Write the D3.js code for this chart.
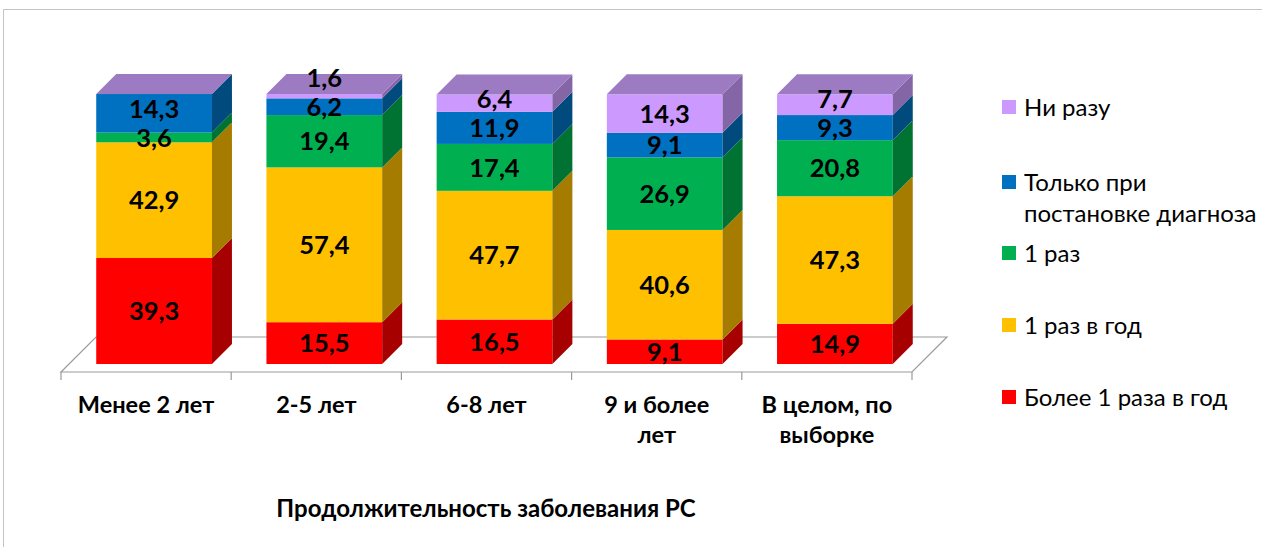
<!DOCTYPE html>
<html><head><meta charset="utf-8">
<script src="https://cdn.jsdelivr.net/npm/d3@7"></script>
<style>html,body{margin:0;padding:0;background:#fff;}svg{display:block;}</style>
</head><body>
<svg id="c" width="1262" height="547"></svg>
<script>
const categories = ["Менее 2 лет","2-5 лет","6-8 лет","9 и более лет","В целом, по выборке"];
const categoryLines = [["Менее 2 лет"],["2-5 лет"],["6-8 лет"],["9 и более","лет"],["В целом, по","выборке"]];
const seriesNames = ["Более 1 раза в год","1 раз в год","1 раз","Только при постановке диагноза","Ни разу"];
const legendLines = [["Более 1 раза в год"],["1 раз в год"],["1 раз"],["Только при","постановке диагноза"],["Ни разу"]];
const moreThanOnceYear = [39.3,15.5,16.5,9.1,14.9];
const onceYear = [42.9,57.4,47.7,40.6,47.3];
const onceOnly = [3.6,19.4,17.4,26.9,20.8];
const atDiagnosis = [14.3,6.2,11.9,9.1,9.3];
const never = [0,1.6,6.4,14.3,7.7];
const seriesValues = [moreThanOnceYear,onceYear,onceOnly,atDiagnosis,never];
const frontColors = ["#ff0000","#ffc000","#00b050","#0070c0","#cc99ff"];
const sideColors = ["#a60000","#a67c00","#007232","#004a7d","#8466a6"];
const topColor = "#9d7bc2";
const axisTitle = "Продолжительность заболевания РС";

const svg = d3.select("#c");
const FONT = "Lato, 'Open Sans', sans-serif";

// border
svg.append("path").attr("d","M3.5,547 L3.5,9.5 L1262,9.5").attr("fill","none").attr("stroke","#c4c4c4");

const floorY = 372, floorDepth = 35, barOff = 8, barDepth = 20;
const x = d3.scaleBand().domain(categories).range([61, 912]).paddingInner(0).paddingOuter(0);
const y = d3.scaleLinear().domain([0,100]).range([floorY - barOff, 94.3]);
const bw = x.bandwidth();
const barW = bw * 0.68;

// floor
const fx0 = x.range()[0], fx1 = x.range()[1];
svg.append("polygon")
  .attr("points", [[fx0,floorY],[fx1,floorY],[fx1+floorDepth,floorY-floorDepth],[fx0+floorDepth,floorY-floorDepth]].map(p=>p.join(",")).join(" "))
  .attr("fill","#fff").attr("stroke","#9a9a9a").attr("stroke-width",1.2);
const tickXs = categories.map(c=>x(c)).concat([fx1]);
svg.selectAll(".tick").data(tickXs).enter().append("line")
  .attr("x1",d=>d).attr("x2",d=>d).attr("y1",floorY).attr("y2",floorY+8)
  .attr("stroke","#9a9a9a").attr("stroke-width",1.2);

// bars
const stackData = categories.map((c,i)=>{
  let acc = 0;
  return seriesValues.map((s,k)=>{ const y0 = acc; acc += s[i]; return {c, k, v:s[i], y0, y1:acc}; });
});
const g = svg.append("g");
stackData.forEach((segs,i)=>{
  const c = categories[i];
  const xl = x(c) + (bw - barW)/2 + barOff;
  const xr = xl + barW;
  segs.forEach(s=>{
    if (s.v <= 0) return;
    const yt = y(s.y1), yb = y(s.y0);
    g.append("rect").attr("x",xl).attr("y",yt).attr("width",barW).attr("height",yb-yt).attr("fill",frontColors[s.k]);
    g.append("polygon").attr("points",[[xr,yb],[xr+barDepth,yb-barDepth],[xr+barDepth,yt-barDepth],[xr,yt]].map(p=>p.join(",")).join(" "))
      .attr("fill",sideColors[s.k]);
  });
  const top = segs[segs.length-1].y1;
  const yt = y(top);
  g.append("polygon").attr("points",[[xl,yt],[xr,yt],[xr+barDepth,yt-barDepth],[xl+barDepth,yt-barDepth]].map(p=>p.join(",")).join(" "))
    .attr("fill",topColor);
  // labels with simple upward collision avoidance
  let prev = Infinity;
  segs.forEach(s=>{
    if (s.v <= 0) return;
    let cy = (y(s.y0)+y(s.y1))/2;
    cy = Math.min(cy, prev - 29);
    prev = cy;
    g.append("text").attr("x",(xl+xr)/2).attr("y",cy).attr("dy","0.36em")
      .attr("text-anchor","middle").attr("font-family",FONT).attr("font-weight","bold")
      .attr("font-size",25.5).attr("fill","#000").text(d3.format(".1f")(s.v).replace(".",","));
  });
});

// category labels
categories.forEach((c,i)=>{
  const t = svg.append("text").attr("x",x(c)+bw/2).attr("y",413).attr("text-anchor","middle")
    .attr("font-family",FONT).attr("font-weight","bold").attr("font-size",23.5).attr("fill","#000");
  categoryLines[i].forEach((ln,j)=>{
    t.append("tspan").attr("x",x(c)+bw/2).attr("dy", j===0?0:30).text(ln);
  });
});

// axis title
svg.append("text").attr("x",486).attr("y",517).attr("text-anchor","middle")
  .attr("font-family",FONT).attr("font-weight","bold").attr("font-size",24).attr("fill","#000").text(axisTitle);

// legend (top to bottom: reversed series order)
const legendY = [107, 182, 253, 325, 397];
const order = [4,3,2,1,0];
order.forEach((k,r)=>{
  const cy = legendY[r];
  svg.append("rect").attr("x",1002).attr("y",cy-7).attr("width",14).attr("height",14).attr("fill",frontColors[k]);
  const t = svg.append("text").attr("x",1024).attr("y",cy).attr("dy","0.36em")
    .attr("font-family",FONT).attr("font-size",24).attr("fill","#000");
  legendLines[k].forEach((ln,j)=>{
    t.append("tspan").attr("x",1024).attr("dy", j===0?"0.36em":31).text(ln);
  });
});
</script>
</body></html>
